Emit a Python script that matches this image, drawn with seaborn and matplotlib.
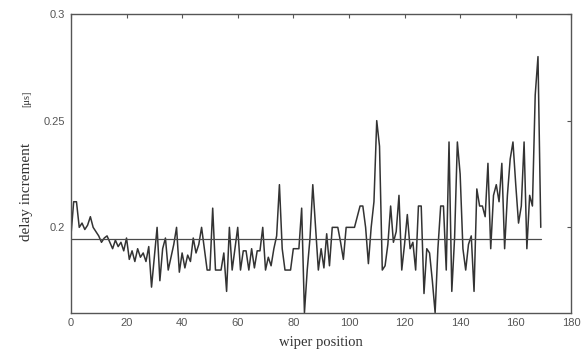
import numpy as np
import pandas as pd
import matplotlib
matplotlib.use('Agg')
import matplotlib.pyplot as plt
import seaborn as sns

# values (delay increment in microseconds)
delay_us = [
    0.196, 0.212, 0.212, 0.200, 0.202, 0.199, 0.201, 0.205, 0.200, 0.198,
    0.196, 0.193, 0.195, 0.196, 0.193, 0.190, 0.194, 0.191, 0.193, 0.189,
    0.195, 0.185, 0.189, 0.184, 0.190, 0.186, 0.188, 0.184, 0.191, 0.172,
    0.186, 0.200, 0.175, 0.190, 0.195, 0.180, 0.186, 0.192, 0.200, 0.179,
    0.188, 0.181, 0.187, 0.184, 0.195, 0.188, 0.192, 0.200, 0.190, 0.180,
    0.180, 0.209, 0.180, 0.180, 0.180, 0.188, 0.170, 0.200, 0.180, 0.190,
    0.200, 0.180, 0.189, 0.189, 0.180, 0.190, 0.181, 0.189, 0.189, 0.200,
    0.180, 0.186, 0.182, 0.190, 0.196, 0.220, 0.190, 0.180, 0.180, 0.180,
    0.190, 0.190, 0.190, 0.209, 0.160, 0.180, 0.195, 0.220, 0.200, 0.180,
    0.190, 0.181, 0.197, 0.182, 0.200, 0.200, 0.200, 0.193, 0.185, 0.200,
    0.200, 0.200, 0.200, 0.205, 0.210, 0.210, 0.200, 0.183, 0.200, 0.212,
    0.250, 0.238, 0.180, 0.182, 0.192, 0.210, 0.193, 0.198, 0.215, 0.180,
    0.192, 0.206, 0.190, 0.193, 0.180, 0.210, 0.210, 0.169, 0.190, 0.188,
    0.175, 0.160, 0.190, 0.210, 0.210, 0.180, 0.240, 0.170, 0.195, 0.240,
    0.225, 0.190, 0.180, 0.192, 0.196, 0.170, 0.218, 0.210, 0.210, 0.205,
    0.230, 0.190, 0.215, 0.220, 0.212, 0.230, 0.190, 0.215, 0.232, 0.240,
    0.220, 0.202, 0.210, 0.240, 0.190, 0.215, 0.210, 0.262, 0.280, 0.200,
]
wiper_pos = list(range(len(delay_us)))
mean_level = 0.1945

x_ticks = [0, 20, 40, 60, 80, 100, 120, 140, 160, 180]
y_ticks = [0.2, 0.25, 0.3]
y_tick_labels = ['0.2', '0.25', '0.3']

df = pd.DataFrame({'wiper position': wiper_pos, 'delay': delay_us})

sns.set_style('white')
plt.rcParams['font.family'] = ['Liberation Sans', 'DejaVu Sans']

fig = plt.figure(figsize=(5.86, 3.57), dpi=100)
ax = fig.add_axes([0.121, 0.124, 0.854, 0.837])

line_col = '#333333'
sns.lineplot(data=df, x='wiper position', y='delay', ax=ax,
             color=line_col, linewidth=1.1)
# mean level across the measured range
ax.plot([wiper_pos[0], wiper_pos[-1]], [mean_level, mean_level],
        color='#4a4a4a', linewidth=0.9)

ax.set_xlim(0, 180)
ax.set_ylim(0.16, 0.3)
ax.set_xticks(x_ticks)
ax.set_xticklabels([str(t) for t in x_ticks])
ax.set_yticks(y_ticks)
ax.set_yticklabels(y_tick_labels)

ax.tick_params(direction='in', length=3, width=0.8, top=True, right=True,
               colors='#555555', labelsize=8, pad=4)
for s in ax.spines.values():
    s.set_color('#555555')
    s.set_linewidth(1.0)

ax.set_xlabel('')
ax.set_ylabel('')
serif = ['Liberation Serif', 'DejaVu Serif']
ax.text(0.5, -0.1, 'wiper position', transform=ax.transAxes,
        ha='center', va='center', fontsize=10.5, family=serif, color='#333333')
ax.text(-0.088, 0.405, 'delay increment', transform=ax.transAxes,
        ha='center', va='center', rotation=90, fontsize=11, family=serif,
        color='#333333')
ax.text(-0.088, 0.715, '[μs]', transform=ax.transAxes,
        ha='center', va='center', rotation=90, fontsize=7.5, family=serif,
        color='#333333')

fig.savefig('out.png', dpi=100, facecolor='white')
